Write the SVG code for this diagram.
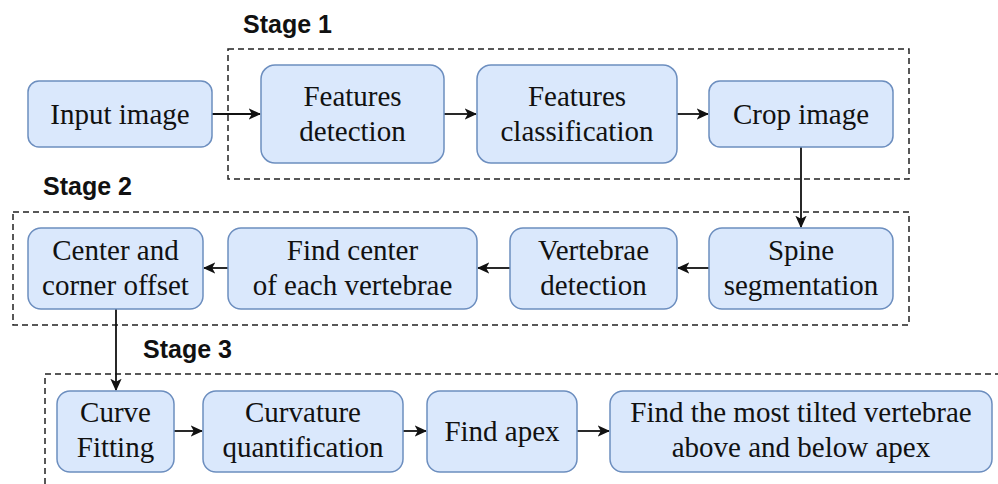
<svg xmlns="http://www.w3.org/2000/svg" width="998" height="484" viewBox="0 0 998 484">
  <defs>
    <style>
      .box { fill: #dae8fc; stroke: #6c8ebf; stroke-width: 1.5; }
      .stage { fill: none; stroke: #222; stroke-width: 1.5; stroke-dasharray: 6 4; }
      .lbl { font-family: "Liberation Serif", "Times New Roman", serif; font-size: 29px; fill: #111; text-anchor: middle; }
      .title { font-family: "Liberation Sans", Arial, sans-serif; font-size: 25px; font-weight: bold; fill: #111; }
      .edge { fill: none; stroke: #111; stroke-width: 1.8; }
    </style>
    <marker id="arrow" viewBox="0 0 10 10" refX="9" refY="5" markerWidth="7" markerHeight="7" markerUnits="strokeWidth" orient="auto">
      <path d="M0,0.5 L10,5 L0,9.5 L2.5,5 Z" fill="#111"/>
    </marker>
  </defs>

  <!-- stage frames -->
  <g id="stage-frames">
    <rect class="stage" x="228" y="49" width="681" height="130"/>
    <rect class="stage" x="13" y="212" width="896" height="113"/>
    <rect class="stage" x="45" y="374" width="970" height="130"/>
    <text class="title" x="243" y="33">Stage 1</text>
    <text class="title" x="43" y="195">Stage 2</text>
    <text class="title" x="143" y="358">Stage 3</text>
  </g>

  <!-- connectors -->
  <g id="connectors">
    <line class="edge" x1="212" y1="114" x2="260" y2="114" marker-end="url(#arrow)"/>
    <line class="edge" x1="444" y1="114" x2="476" y2="114" marker-end="url(#arrow)"/>
    <line class="edge" x1="677" y1="114" x2="708" y2="114" marker-end="url(#arrow)"/>
    <line class="edge" x1="801" y1="147" x2="801" y2="227" marker-end="url(#arrow)"/>
    <line class="edge" x1="709" y1="268" x2="678" y2="268" marker-end="url(#arrow)"/>
    <line class="edge" x1="510" y1="268" x2="478" y2="268" marker-end="url(#arrow)"/>
    <line class="edge" x1="228" y1="268" x2="204" y2="268" marker-end="url(#arrow)"/>
    <line class="edge" x1="116" y1="309" x2="116" y2="390" marker-end="url(#arrow)"/>
    <line class="edge" x1="174" y1="431" x2="202" y2="431" marker-end="url(#arrow)"/>
    <line class="edge" x1="403" y1="431" x2="426" y2="431" marker-end="url(#arrow)"/>
    <line class="edge" x1="577" y1="431" x2="609" y2="431" marker-end="url(#arrow)"/>
  </g>

  <!-- nodes -->
  <g id="input-image">
    <rect class="box" x="28" y="81" width="184" height="66" rx="11"/>
    <text class="lbl" x="120" y="124">Input image</text>
  </g>
  <g id="features-detection">
    <rect class="box" x="261" y="65" width="183" height="98" rx="14"/>
    <text class="lbl" x="352.5" y="106">Features</text>
    <text class="lbl" x="352.5" y="141">detection</text>
  </g>
  <g id="features-classification">
    <rect class="box" x="477" y="65" width="200" height="98" rx="14"/>
    <text class="lbl" x="577" y="106">Features</text>
    <text class="lbl" x="577" y="141">classification</text>
  </g>
  <g id="crop-image">
    <rect class="box" x="709" y="81" width="184" height="66" rx="11"/>
    <text class="lbl" x="801" y="124">Crop image</text>
  </g>

  <g id="spine-segmentation">
    <rect class="box" x="709" y="228" width="184" height="81" rx="13"/>
    <text class="lbl" x="801" y="260">Spine</text>
    <text class="lbl" x="801" y="295">segmentation</text>
  </g>
  <g id="vertebrae-detection">
    <rect class="box" x="510" y="228" width="167" height="81" rx="13"/>
    <text class="lbl" x="593.5" y="260">Vertebrae</text>
    <text class="lbl" x="593.5" y="295">detection</text>
  </g>
  <g id="find-center">
    <rect class="box" x="228" y="228" width="249" height="81" rx="13"/>
    <text class="lbl" x="352.5" y="260">Find center</text>
    <text class="lbl" x="352.5" y="295">of each vertebrae</text>
  </g>
  <g id="center-corner-offset">
    <rect class="box" x="28" y="228" width="175" height="81" rx="13"/>
    <text class="lbl" x="115.5" y="260">Center and</text>
    <text class="lbl" x="115.5" y="295">corner offset</text>
  </g>

  <g id="curve-fitting">
    <rect class="box" x="57" y="391" width="117" height="81" rx="13"/>
    <text class="lbl" x="115.5" y="422">Curve</text>
    <text class="lbl" x="115.5" y="457">Fitting</text>
  </g>
  <g id="curvature-quantification">
    <rect class="box" x="203" y="391" width="200" height="81" rx="13"/>
    <text class="lbl" x="303" y="422">Curvature</text>
    <text class="lbl" x="303" y="457">quantification</text>
  </g>
  <g id="find-apex">
    <rect class="box" x="427" y="391" width="150" height="81" rx="13"/>
    <text class="lbl" x="502" y="441">Find apex</text>
  </g>
  <g id="most-tilted">
    <rect class="box" x="610" y="391" width="382" height="81" rx="13"/>
    <text class="lbl" x="801" y="422">Find the most tilted vertebrae</text>
    <text class="lbl" x="801" y="457">above and below apex</text>
  </g>
</svg>
